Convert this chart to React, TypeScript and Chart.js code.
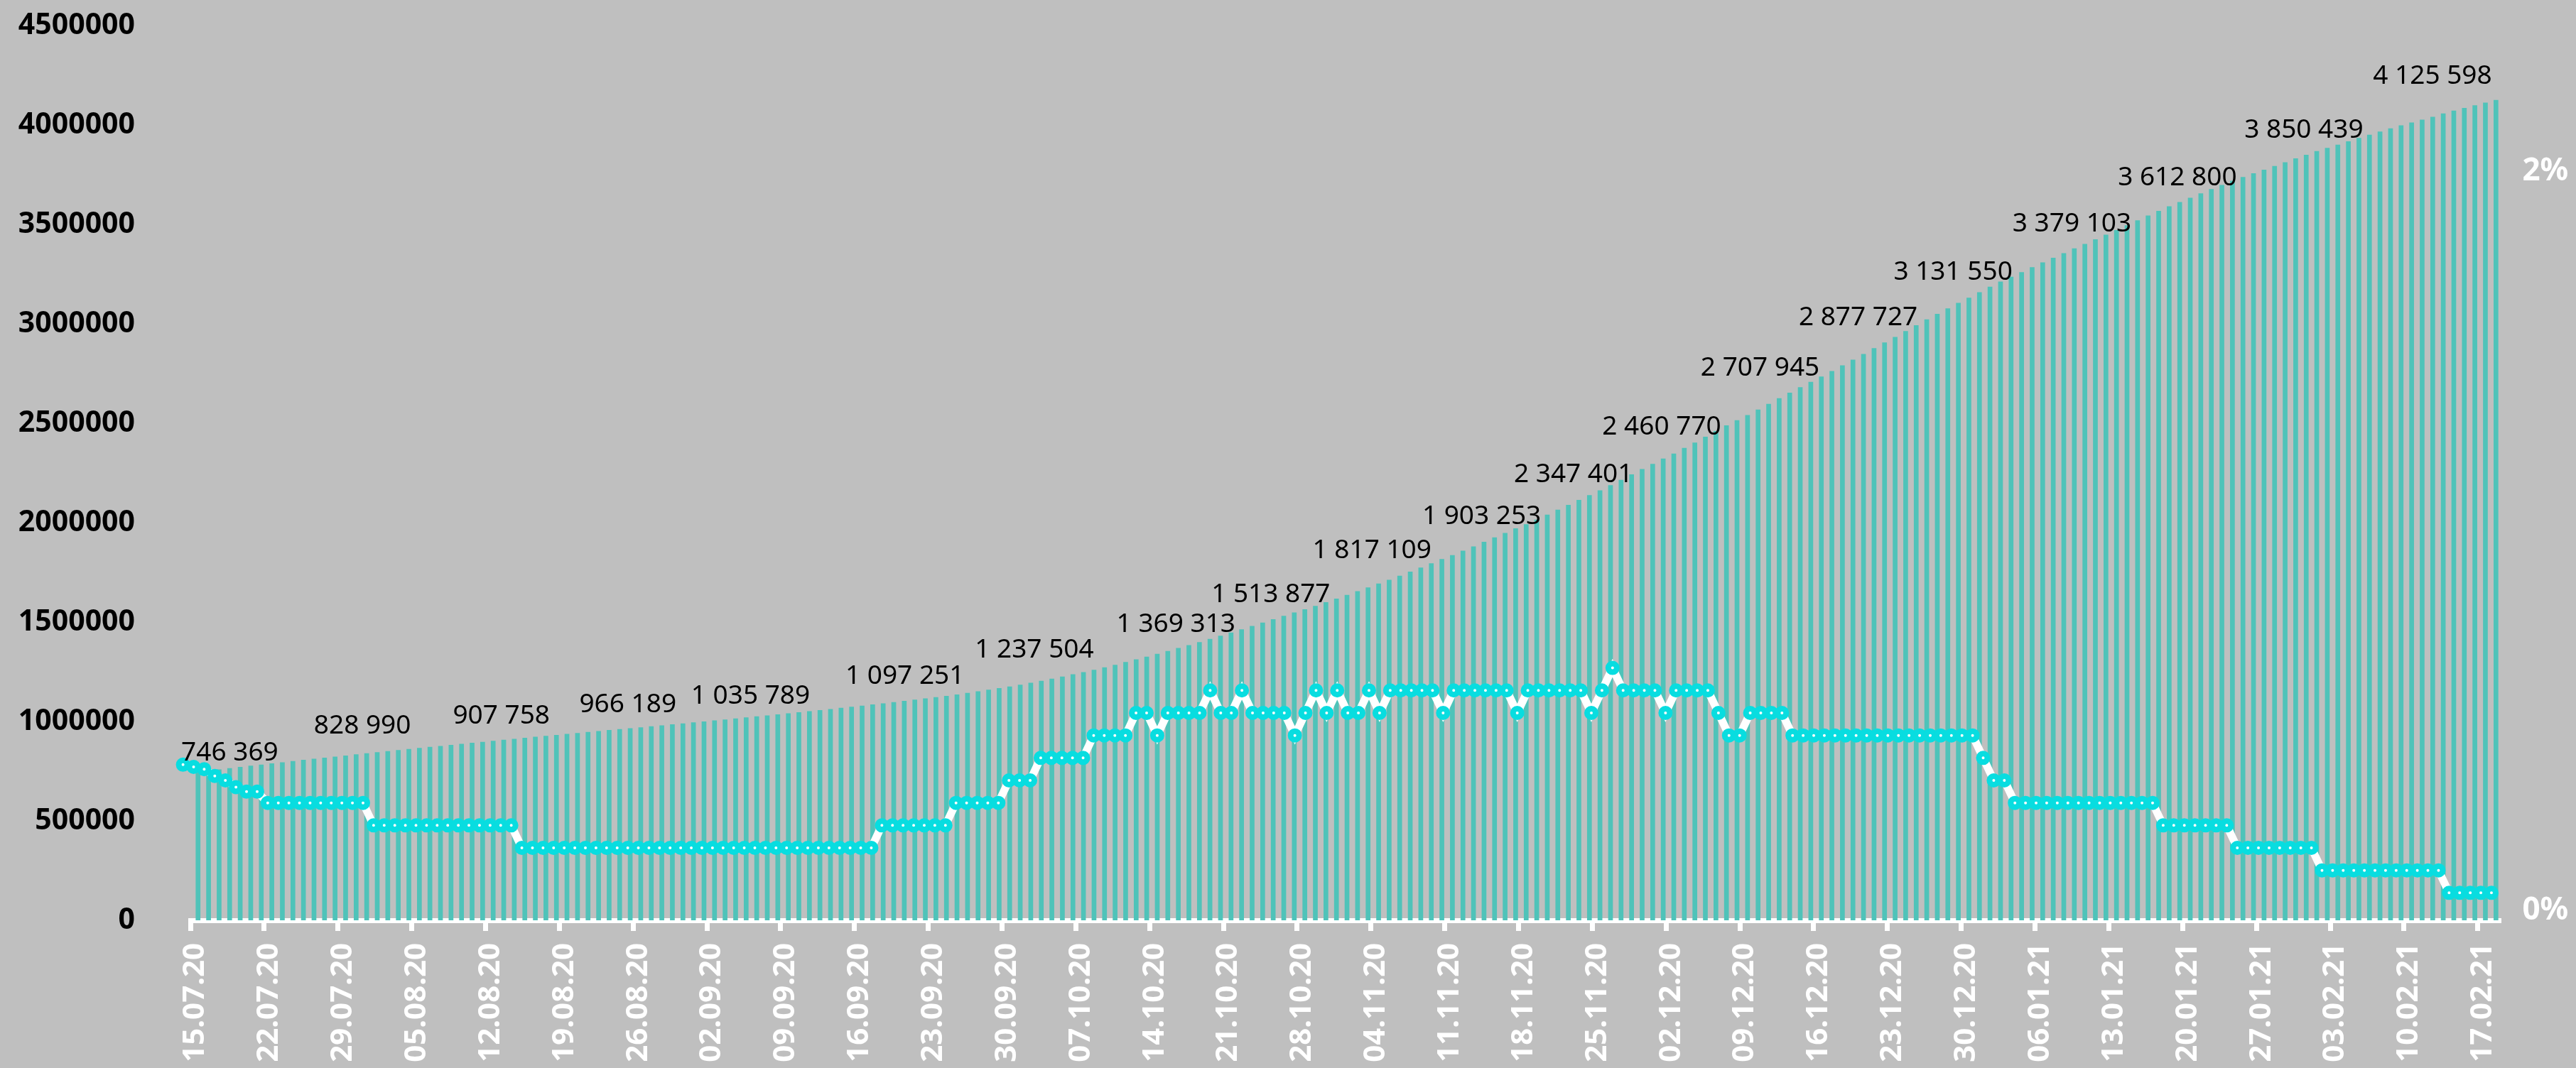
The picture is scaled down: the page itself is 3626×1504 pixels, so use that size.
import React, { useEffect, useRef } from "react";
import { Chart, registerables } from "chart.js";

Chart.register(...registerables);

// Cumulative cases, one value per day from 15.07.20 to 18.02.21
const cases: number[] = [
  746369, 752797, 759203, 765437, 771546, 777486, 783328, 789190, 795038, 800849,
  806720, 812485, 818120, 823515, 828990, 834499, 839981, 845443, 850870, 856264,
  861423, 866627, 871894, 877135, 882347, 887536, 892654, 897599, 902701, 907758,
  912823, 917884, 922853, 927745, 932493, 937321, 942106, 946976, 951897, 956749,
  961493, 966189, 970865, 975576, 980405, 985346, 990326, 995319, 1000048, 1005000,
  1009995, 1015105, 1020310, 1025505, 1030690, 1035789, 1041007, 1046370, 1051874, 1057362,
  1062811, 1068320, 1073849, 1079519, 1085281, 1091186, 1097251, 1103399, 1109595, 1115810,
  1122241, 1128836, 1136048, 1143571, 1151438, 1159573, 1167805, 1176286, 1185231, 1194643,
  1204502, 1215001, 1225889, 1237504, 1248619, 1260112, 1272238, 1285084, 1298718, 1312310,
  1326178, 1340409, 1354163, 1369313, 1384235, 1399334, 1415316, 1431635, 1447335, 1463306,
  1480646, 1497167, 1513877, 1531224, 1547774, 1563976, 1581693, 1599976, 1618116, 1636781,
  1655038, 1673686, 1693454, 1712858, 1733440, 1753836, 1774334, 1795132, 1817109, 1836960,
  1858568, 1880551, 1903253, 1925825, 1948603, 1971013, 1991998, 2015608, 2039926, 2064748,
  2089329, 2114502, 2138828, 2162503, 2187990, 2215533, 2242633, 2269316, 2295654, 2322056,
  2347401, 2375546, 2402949, 2431731, 2460770, 2488912, 2515009, 2541199, 2569126, 2597711,
  2625848, 2653928, 2681256, 2707945, 2734454, 2762668, 2791220, 2819429, 2848377, 2877727,
  2906503, 2934136, 2963688, 2992706, 3021964, 3050248, 3078035, 3105037, 3131550, 3159297,
  3186336, 3212637, 3236787, 3260138, 3284408, 3308601, 3332142, 3355794, 3379103, 3401954,
  3425269, 3448203, 3471053, 3495816, 3520531, 3544623, 3568209, 3591066, 3612800, 3633643,
  3655839, 3677352, 3698273, 3719400, 3738690, 3756931, 3774672, 3793810, 3812684, 3832031,
  3850439, 3868544, 3884730, 3901204, 3917918, 3935200, 3951285, 3967104, 3983031, 3997898,
  4012710, 4026506, 4041063, 4057698, 4071883, 4086090, 4099323, 4112151, 4125598,
];

// Daily growth, %
const growthPct: number[] = [
  0.87, 0.86, 0.85, 0.82, 0.8, 0.77, 0.75, 0.75, 0.7, 0.7,
  0.7, 0.7, 0.7, 0.7, 0.7, 0.7, 0.7, 0.7, 0.6, 0.6,
  0.6, 0.6, 0.6, 0.6, 0.6, 0.6, 0.6, 0.6, 0.6, 0.6,
  0.6, 0.6, 0.5, 0.5, 0.5, 0.5, 0.5, 0.5, 0.5, 0.5,
  0.5, 0.5, 0.5, 0.5, 0.5, 0.5, 0.5, 0.5, 0.5, 0.5,
  0.5, 0.5, 0.5, 0.5, 0.5, 0.5, 0.5, 0.5, 0.5, 0.5,
  0.5, 0.5, 0.5, 0.5, 0.5, 0.5, 0.6, 0.6, 0.6, 0.6,
  0.6, 0.6, 0.6, 0.7, 0.7, 0.7, 0.7, 0.7, 0.8, 0.8,
  0.8, 0.9, 0.9, 0.9, 0.9, 0.9, 1.0, 1.0, 1.0, 1.0,
  1.1, 1.1, 1.0, 1.1, 1.1, 1.1, 1.1, 1.2, 1.1, 1.1,
  1.2, 1.1, 1.1, 1.1, 1.1, 1.0, 1.1, 1.2, 1.1, 1.2,
  1.1, 1.1, 1.2, 1.1, 1.2, 1.2, 1.2, 1.2, 1.2, 1.1,
  1.2, 1.2, 1.2, 1.2, 1.2, 1.2, 1.1, 1.2, 1.2, 1.2,
  1.2, 1.2, 1.2, 1.1, 1.2, 1.3, 1.2, 1.2, 1.2, 1.2,
  1.1, 1.2, 1.2, 1.2, 1.2, 1.1, 1.0, 1.0, 1.1, 1.1,
  1.1, 1.1, 1.0, 1.0, 1.0, 1.0, 1.0, 1.0, 1.0, 1.0,
  1.0, 1.0, 1.0, 1.0, 1.0, 1.0, 1.0, 1.0, 1.0, 1.0,
  0.9, 0.8, 0.8, 0.7, 0.7, 0.7, 0.7, 0.7, 0.7, 0.7,
  0.7, 0.7, 0.7, 0.7, 0.7, 0.7, 0.7, 0.6, 0.6, 0.6,
  0.6, 0.6, 0.6, 0.6, 0.5, 0.5, 0.5, 0.5, 0.5, 0.5,
  0.5, 0.5, 0.4, 0.4, 0.4, 0.4, 0.4, 0.4, 0.4, 0.4,
  0.4, 0.4, 0.4, 0.4, 0.3, 0.3, 0.3, 0.3, 0.3,
];

const tickLabels: string[] = [
  "15.07.20", "22.07.20", "29.07.20", "05.08.20", "12.08.20", "19.08.20", "26.08.20",
  "02.09.20", "09.09.20", "16.09.20", "23.09.20", "30.09.20", "07.10.20", "14.10.20",
  "21.10.20", "28.10.20", "04.11.20", "11.11.20", "18.11.20", "25.11.20", "02.12.20",
  "09.12.20", "16.12.20", "23.12.20", "30.12.20", "06.01.21", "13.01.21", "20.01.21",
  "27.01.21", "03.02.21", "10.02.21", "17.02.21",
];

const rightTicks: number[] = [0, 2];
const leftTickStep = 500000;

// Which bars carry a value label
const labelIdx: number[] = [0, 14, 29, 41, 55, 66, 83, 93, 102, 118, 122, 140, 144, 153, 159, 168, 178, 188, 200, 218];
// Label placement relative to the bar top (px)
const labelDx: number[] = [48, 27, 0, 0, -35, 19, -51, 0, 0, -95, 0, -138, -73, -68, -19, -19, 0, 0, 0, -86];
const labelDy: number[] = [-29, -44, -36, -36, -28, -39, -37, -36, -37, -14, -38, 27, -8, -22, -45, -38, -37, -37, -37, -36];

function buildCategories(n: number): string[] {
  const out: string[] = [];
  const t0 = Date.UTC(2020, 6, 15);
  for (let i = 0; i < n; i++) {
    const d = new Date(t0 + i * 86400000);
    const dd = String(d.getUTCDate()).padStart(2, "0");
    const mm = String(d.getUTCMonth() + 1).padStart(2, "0");
    const yy = String(d.getUTCFullYear() % 100).padStart(2, "0");
    out.push(`${dd}.${mm}.${yy}`);
  }
  return out;
}

const fmt = (n: number) => String(n).replace(/\B(?=(\d{3})+(?!\d))/g, " ");

const FONT = "'Noto Sans', 'Open Sans', sans-serif";
const BG = "#bfbfbf";
const BAR = "#4fc3b9";
const CYAN = "#08dde0";

export default function App() {
  const ref = useRef<HTMLCanvasElement | null>(null);

  useEffect(() => {
    document.body.style.background = BG;
    const canvas = ref.current;
    if (!canvas) return;
    const categories = buildCategories(cases.length);
    const tickSet = new Set(tickLabels);
    const linePoints = growthPct.map((v, i) => ({ x: i, y: v }));

    const bgPlugin = {
      id: "bg",
      beforeDraw(chart: any) {
        const c = chart.ctx;
        c.save();
        c.fillStyle = BG;
        c.fillRect(0, 0, chart.width, chart.height);
        c.restore();
      },
    };

    const labelPlugin = {
      id: "valueLabels",
      afterDatasetsDraw(chart: any) {
        const c = chart.ctx;
        const xs = chart.scales.x;
        const ys = chart.scales.y;
        const size = 37;
        c.save();
        c.font = `400 ${size}px ${FONT}`;
        c.fillStyle = "#000";
        c.textAlign = "center";
        c.textBaseline = "alphabetic";
        labelIdx.forEach((idx, k) => {
          const x = xs.getPixelForValue(idx) + labelDx[k];
          const yc = ys.getPixelForValue(cases[idx]) + labelDy[k];
          c.fillText(fmt(cases[idx]), x, yc + size * 0.357);
        });
        c.restore();
      },
    };

    const noVPad = (s: any) => {
      s.paddingTop = 0;
      s.paddingBottom = 0;
    };

    const chart = new Chart(canvas, {
      type: "bar",
      data: {
        labels: categories,
        datasets: [
          {
            type: "line",
            label: "growth",
            data: linePoints as any,
            xAxisID: "x2",
            yAxisID: "y2",
            borderColor: "#ffffff",
            borderWidth: 11,
            tension: 0,
            pointRadius: 6,
            pointBorderWidth: 8,
            pointBackgroundColor: "#ffffff",
            pointBorderColor: CYAN,
            clip: false as any,
            order: 0,
          } as any,
          {
            type: "bar",
            label: "cases",
            data: cases,
            xAxisID: "x",
            yAxisID: "y",
            backgroundColor: BAR,
            borderWidth: 0,
            categoryPercentage: 0.9,
            barPercentage: 1,
            order: 1,
          },
        ],
      },
      options: {
        responsive: false,
        animation: false,
        devicePixelRatio: 1,
        layout: { padding: { top: 28, left: 0, right: 0, bottom: 0 } },
        plugins: { legend: { display: false }, tooltip: { enabled: false } },
        scales: {
          x: {
            type: "category",
            offset: true,
            grid: {
              display: true,
              offset: true,
              drawOnChartArea: false,
              drawTicks: true,
              tickLength: 15,
              tickWidth: 7,
              lineWidth: 7,
              tickColor: (ctx: any) =>
                tickSet.has(categories[ctx.index]) ? "#ffffff" : "rgba(0,0,0,0)",
            },
            border: { display: true, color: "#ffffff", width: 7 },
            ticks: {
              autoSkip: false,
              minRotation: 90,
              maxRotation: 90,
              padding: 17,
              color: "#ffffff",
              font: { family: FONT, size: 42, weight: "bold" },
              callback: function (this: any, value: any) {
                const lab = this.getLabelForValue(value);
                return tickSet.has(lab) ? lab : "";
              },
            },
            afterFit: (s: any) => {
              s.height = 200;
              s.paddingLeft = 0;
              s.paddingRight = 0;
            },
          },
          y: {
            position: "left",
            min: 0,
            max: 4500000,
            grid: { display: false, drawTicks: false },
            border: { display: false },
            ticks: {
              stepSize: leftTickStep,
              padding: 78,
              color: "#000000",
              font: { family: FONT, size: 41, weight: "bold" },
              callback: (v: any) => String(v),
            },
            afterFit: (s: any) => {
              s.width = 260;
              noVPad(s);
            },
          },
          y1: {
            position: "right",
            min: 0,
            max: 2.423,
            grid: { display: false, drawTicks: false },
            border: { display: false },
            afterBuildTicks: (s: any) => {
              s.ticks = rightTicks.map((v) => ({ value: v }));
            },
            ticks: {
              padding: 33,
              labelOffset: -14,
              color: "#ffffff",
              font: { family: FONT, size: 44, weight: "bold" },
              callback: (v: any) => `${v}%`,
            },
            afterFit: (s: any) => {
              s.width = 100.6;
              noVPad(s);
            },
          },
          y2: {
            display: false,
            offset: false,
            beginAtZero: false,
            grace: 0,
            min: 0.178,
            max: 4.156,
          },
          x2: {
            type: "linear",
            display: false,
            offset: false,
            grace: 0,
            min: 0.698,
            max: 218.7,
          },
        } as any,
      },
      plugins: [bgPlugin, labelPlugin],
    });

    return () => {
      chart.destroy();
    };
  }, []);

  return (
    <canvas
      ref={ref}
      width={3610}
      height={1488}
      style={{ display: "block", width: "3610px", height: "1488px" }}
    />
  );
}
